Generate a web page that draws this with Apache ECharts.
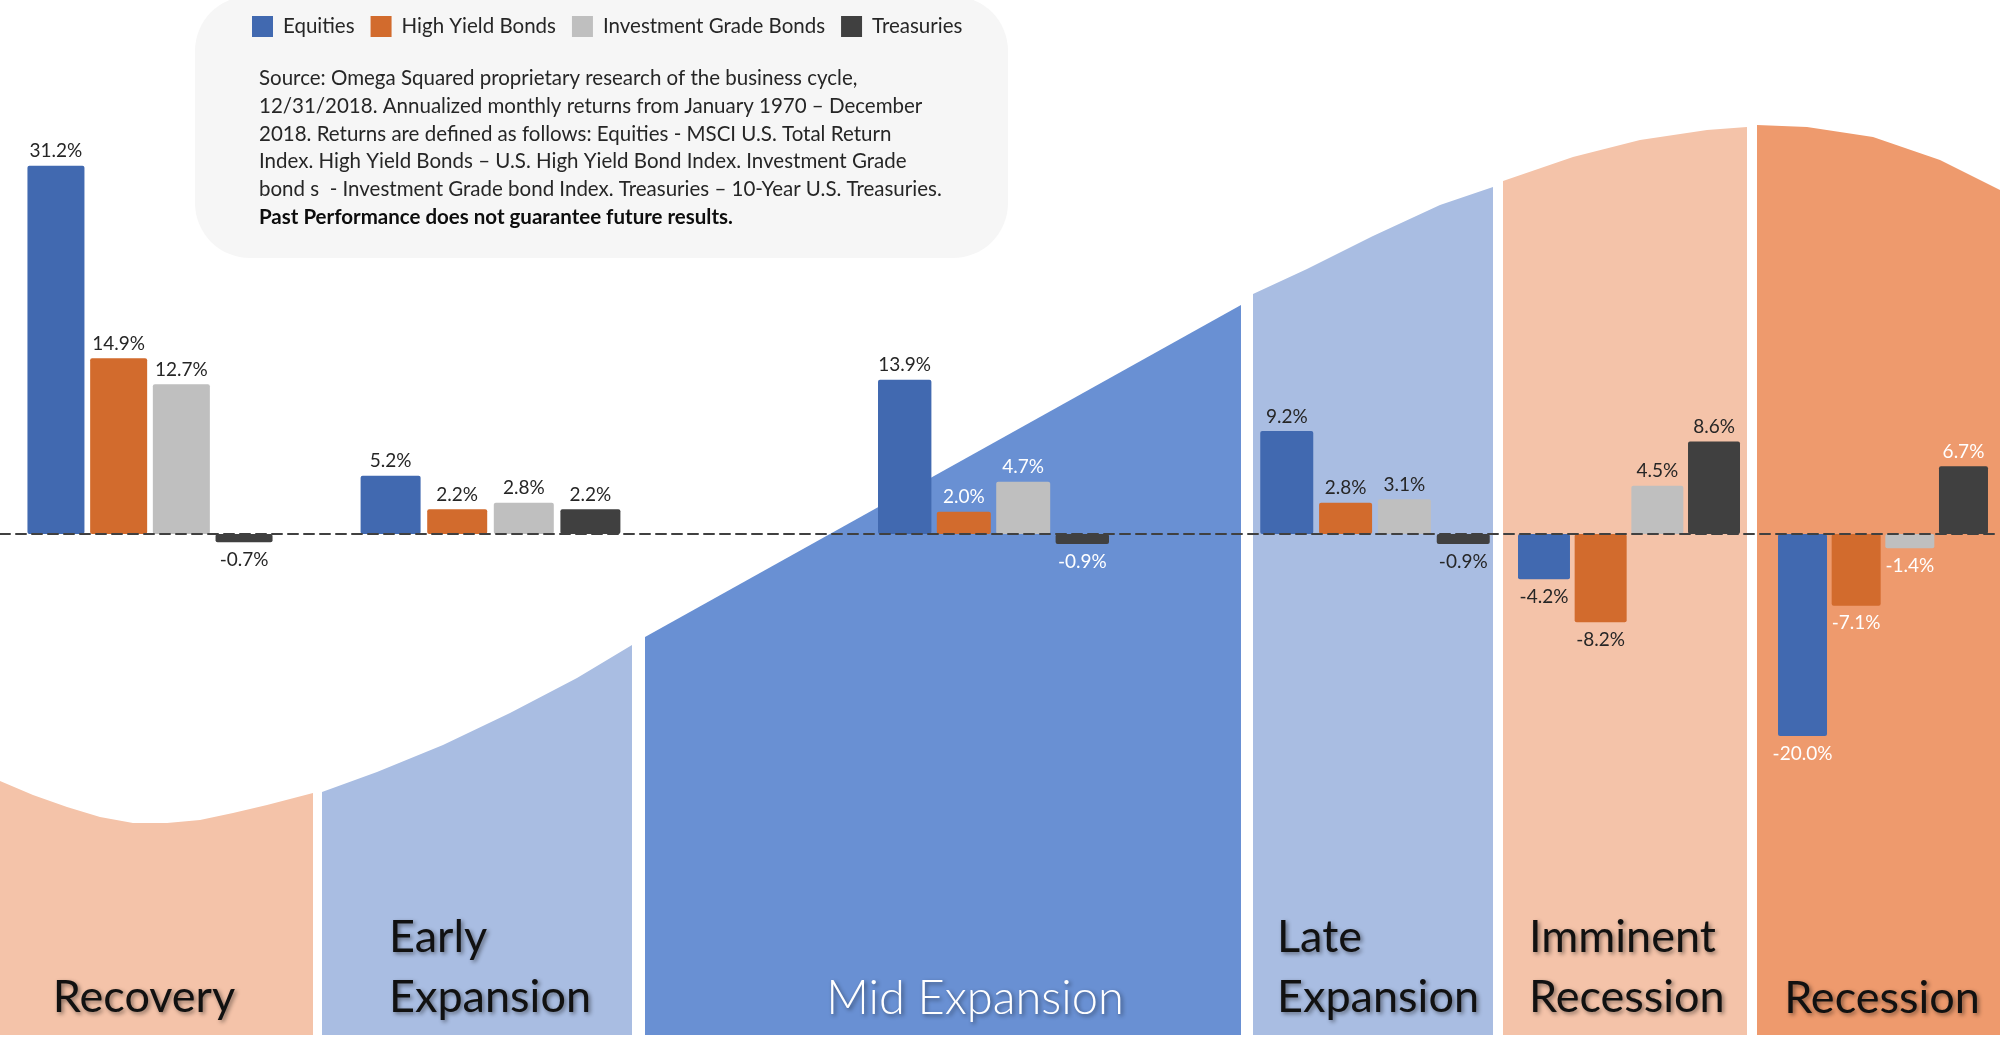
<!DOCTYPE html>
<html><head><meta charset="utf-8">
<script src="https://cdn.jsdelivr.net/npm/echarts@6/dist/echarts.min.js"></script>
<style>html,body{margin:0;padding:0;background:#fff}#c{width:2015px;height:1063px}</style>
</head><body><div id="c"></div>
<script>
// ---------- data ----------
const phases = ['Recovery', 'Early Expansion', 'Mid Expansion', 'Late Expansion', 'Imminent Recession', 'Recession'];
const seriesNames = ['Equities', 'High Yield Bonds', 'Investment Grade Bonds', 'Treasuries'];
const equities = [31.2, 5.2, 13.9, 9.2, -4.2, -20.0];
const highYield = [14.9, 2.2, 2.0, 2.8, -8.2, -7.1];
const investmentGrade = [12.7, 2.8, 4.7, 3.1, 4.5, -1.4];
const treasuries = [-0.7, 2.2, -0.9, -0.9, 8.6, 6.7];
const sourceLines = [
  'Source: Omega Squared proprietary research of the business cycle,',
  '12/31/2018. Annualized monthly returns from January 1970 \u2013 December',
  '2018. Returns are defined as follows: Equities - MSCI U.S. Total Return',
  'Index. High Yield Bonds \u2013 U.S. High Yield Bond Index. Investment Grade',
  'bond s  - Investment Grade bond Index. Treasuries \u2013 10-Year U.S. Treasuries.'
];
const disclaimer = 'Past Performance does not guarantee future results.';

// ---------- layout / style (not data) ----------
const FONT = 'Lato, "Noto Sans", sans-serif';
const barColors = ['#4169B0', '#D26B2D', '#BFBFBF', '#404040'];
const panelFill = ['#F4C3A9', '#A9BDE2', '#6990D3', '#A9BDE2', '#F4C3A9', '#EE9A6D'];
const panelSpan = [[0, 313], [322, 632], [645, 1241], [1253, 1493], [1503, 1747], [1757, 2000]];
// decorative business-cycle wave (top edge of background panels)
const cycleCurve = [
  [0, 254], [33, 240], [67, 228], [100, 218], [133, 212], [167, 212], [200, 215], [233, 222], [267, 230], [313, 242],
  [322, 243], [377, 263], [443, 290], [510, 322], [577, 357], [632, 390],
  [645, 398], [1241, 730],
  [1253, 741], [1307, 766], [1373, 799], [1440, 830], [1493, 848],
  [1503, 854], [1573, 878], [1640, 895], [1707, 905], [1747, 908],
  [1757, 910], [1807, 908], [1873, 898], [1940, 875], [2000, 845]
];
// bar group boxes: left, width, barWidth, gap%
const groupBox = [[27, 246, 57, '10%'], [360, 261, 60, '11%'], [878, 231, 54, '10%'], [1260, 230, 53, '11%'], [1518, 222, 52, '9%'], [1778, 210, 49, '9.5%']];
const pxPerPct = [11.8, 11.2, 11.1, 11.2, 10.75, 10.1];
const whiteLabels = [[], [], [1, 2, 3], [], [], [0, 1, 2, 3]];
const GRID_TOP = 134, GRID_H = 800; // zero line at 534

const values = [equities, highYield, investmentGrade, treasuries];

const grids = [{left: 0, top: 0, width: 2015, height: 1035}];
const xAxes = [{gridIndex: 0, type: 'value', min: 0, max: 2015, show: false}];
const yAxes = [{gridIndex: 0, type: 'value', min: 0, max: 1035, show: false}];
const series = [{
  type: 'custom', xAxisIndex: 0, yAxisIndex: 0, z: 0, silent: true,
  encode: {x: [0, 1], y: 2},
  data: panelSpan.map(p => [p[0], p[1], 0]),
  renderItem: function (params, api) {
    const s = api.value(0), e = api.value(1);
    const pts = [];
    cycleCurve.forEach(p => { if (p[0] >= s && p[0] <= e) pts.push(api.coord(p)); });
    pts.push(api.coord([e, 0]));
    pts.push(api.coord([s, 0]));
    return {type: 'polygon', shape: {points: pts}, style: {fill: panelFill[params.dataIndex]}};
  }
}];

phases.forEach((ph, i) => {
  const g = groupBox[i];
  const r = (GRID_H / 2) / pxPerPct[i];
  grids.push({left: g[0], width: g[1], top: GRID_TOP, height: GRID_H});
  xAxes.push({gridIndex: i + 1, type: 'category', data: [ph], show: false});
  yAxes.push({gridIndex: i + 1, type: 'value', min: -r, max: r, show: false});
  values.forEach((arr, k) => {
    const v = arr[i];
    const white = whiteLabels[i].indexOf(k) >= 0;
    series.push({
      type: 'bar', name: seriesNames[k], xAxisIndex: i + 1, yAxisIndex: i + 1, z: 3,
      barWidth: g[2], barGap: g[3],
      itemStyle: {color: barColors[k], borderRadius: 2},
      data: [{
        value: v,
        label: {
          show: true, position: v >= 0 ? 'top' : 'bottom', distance: v >= 0 ? 5 : 8,
          formatter: v.toFixed(1) + '%', color: white ? '#ffffff' : '#262626',
          fontFamily: FONT, fontSize: 19
        }
      }]
    });
  });
});

// baseline grid for the dashed zero line
grids.push({left: 0, width: 2000, top: GRID_TOP, height: GRID_H});
xAxes.push({
  gridIndex: 7, type: 'value', min: 0, max: 1, z: 10,
  axisLine: {show: true, onZero: true, lineStyle: {color: '#404040', width: 2, type: [10, 6]}},
  axisTick: {show: false}, axisLabel: {show: false}, splitLine: {show: false}
});
yAxes.push({gridIndex: 7, type: 'value', min: -1, max: 1, show: false});

const shadow = {textShadowColor: 'rgba(0,0,0,0.45)', textShadowBlur: 4, textShadowOffsetX: 2, textShadowOffsetY: 2};
function phaseText(text, x, y, align, color, weight, size) {
  return {type: 'text', x: x, y: y, z: 5, silent: true,
    style: Object.assign({text: text, fill: color, fontFamily: FONT, fontSize: size || 45, fontWeight: weight,
      align: align, verticalAlign: 'middle', lineHeight: 60}, shadow)};
}

const option = {
  animation: false,
  backgroundColor: '#ffffff',
  grid: grids, xAxis: xAxes, yAxis: yAxes, series: series,
  legend: {
    data: seriesNames, left: 252, top: 16, padding: 0, itemWidth: 21, itemHeight: 21, itemGap: 16, icon: 'rect',
    selectedMode: false, z: 6,
    textStyle: {fontFamily: FONT, fontSize: 20.5, color: '#262626', padding: [0, 0, 0, 5]}
  },
  graphic: [
    {type: 'rect', z: 1, silent: true, shape: {x: 195, y: -4, width: 813, height: 262, r: 55}, style: {fill: '#F6F6F6'}},
    {type: 'text', z: 6, silent: true, x: 259, y: 65, style: {text: sourceLines.join('\n'), fill: '#262626', fontFamily: FONT, fontSize: 20.5, lineHeight: 27.6, align: 'left', verticalAlign: 'top'}},
    {type: 'text', z: 6, silent: true, x: 259, y: 217, style: {text: disclaimer, fill: '#0d0d0d', fontFamily: FONT, fontSize: 20.5, fontWeight: 'bold', align: 'left', verticalAlign: 'middle'}},
    phaseText(phases[0], 144, 997, 'center', '#111111', 'normal'),
    phaseText('Early\nExpansion', 389, 967, 'left', '#111111', 'normal'),
    phaseText(phases[2], 975, 999, 'center', '#ffffff', 300, 47),
    phaseText('Late\nExpansion', 1277, 967, 'left', '#111111', 'normal'),
    phaseText('Imminent\nRecession', 1529, 967, 'left', '#111111', 'normal'),
    phaseText(phases[5], 1882, 998, 'center', '#111111', 'normal')
  ]
};
const chart = echarts.init(document.getElementById('c'), null, {renderer: 'canvas'});
chart.setOption(option);
</script></body></html>
